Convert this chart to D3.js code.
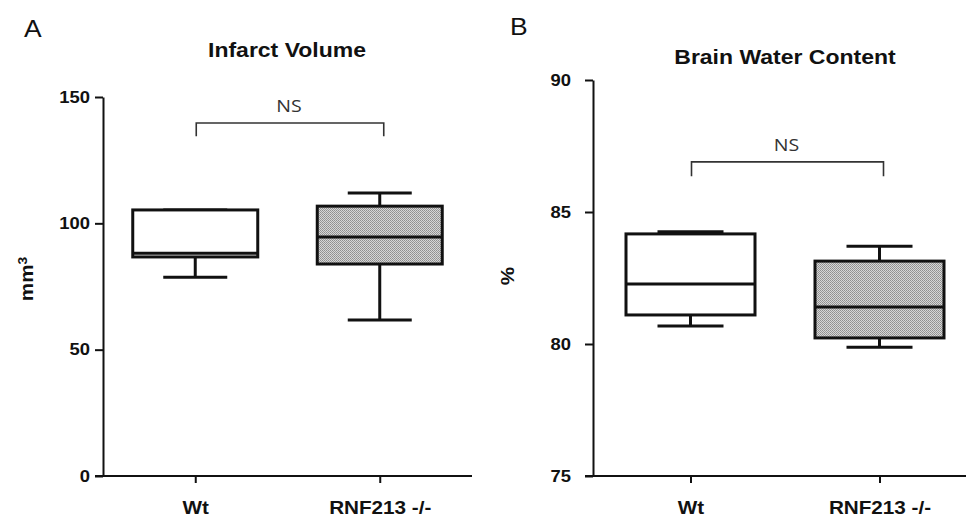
<!DOCTYPE html>
<html>
<head>
<meta charset="utf-8">
<script src="https://cdn.jsdelivr.net/npm/d3@7/dist/d3.min.js"></script>
<style>
  html, body { margin: 0; padding: 0; background: #fff; }
  svg { display: block; }
  text { font-family: "Liberation Sans", Arial, sans-serif; fill: #111; }
</style>
</head>
<body>
<svg id="chart" width="966" height="516"></svg>
<script>
// ---------- data ----------
const categories = ["Wt", "RNF213 -/-"];

// Panel A: Infarct Volume (mm^3)
const infarctMin    = [78.7, 61.7];
const infarctQ1     = [86.7, 83.9];
const infarctMedian = [88.2, 94.6];
const infarctQ3     = [105.3, 106.8];
const infarctMax    = [105.3, 112.0];
const infarctTicks  = [0, 50, 100, 150];

// Panel B: Brain Water Content (%)
const waterMin    = [80.68, 79.88];
const waterQ1     = [81.10, 80.23];
const waterMedian = [82.27, 81.40];
const waterQ3     = [84.17, 83.14];
const waterMax    = [84.25, 83.70];
const waterTicks  = [75, 80, 85, 90];

const panelLetters = ["A", "B"];
const panelTitles = ["Infarct Volume", "Brain Water Content"];
const yLabels = ["mm", "%"];
const sigLabel = "NS";

// ---------- drawing ----------
const svg = d3.select("#chart");
const SX = 1.15; // horizontal stretch of text in the original figure

const defs = svg.append("defs");
const pat = defs.append("pattern")
  .attr("id", "stipple").attr("width", 2).attr("height", 2)
  .attr("patternUnits", "userSpaceOnUse");
pat.append("rect").attr("width", 2).attr("height", 2).attr("fill", "#d6d6d6");
pat.append("rect").attr("x", 0).attr("y", 0).attr("width", 1).attr("height", 1).attr("fill", "#8e8e8e");
pat.append("rect").attr("x", 1).attr("y", 1).attr("width", 1).attr("height", 1).attr("fill", "#9a9a9a");

function label(g, x, y, str, size, weight, anchor, rotate) {
  return g.append("text")
    .attr("transform", `translate(${x},${y})` + (rotate ? ` rotate(${rotate})` : "") + ` scale(${SX},1)`)
    .attr("text-anchor", anchor || "middle")
    .style("font-size", size + "px")
    .style("font-weight", weight || "bold")
    .text(str);
}

function panel(cfg) {
  const g = svg.append("g");
  const y = d3.scaleLinear().domain(cfg.domain).range(cfg.yRange);
  const x = d3.scalePoint().domain(categories).range(cfg.xRange).padding(0.5);

  // y axis
  const yAxis = d3.axisLeft(y).tickValues(cfg.ticks).tickSize(8).tickSizeOuter(0).tickPadding(cfg.tickPad);
  const ya = g.append("g").attr("transform", `translate(${cfg.axisX},0)`).call(yAxis);
  ya.select(".domain").attr("stroke", "#111").attr("stroke-width", 2);
  ya.selectAll(".tick line").attr("stroke", "#111").attr("stroke-width", 2);
  ya.selectAll(".tick text")
    .attr("transform", `scale(${SX},1)`)
    .attr("x", -(8 + cfg.tickPad) / SX)
    .style("font-size", "16px").style("font-weight", "bold")
    .style("font-family", "'Liberation Sans', Arial, sans-serif").attr("fill", "#111");

  // x axis
  const y0 = y(cfg.domain[0]);
  g.append("line")
    .attr("x1", cfg.axisX - 8).attr("x2", cfg.xEnd)
    .attr("y1", y0).attr("y2", y0)
    .attr("stroke", "#111").attr("stroke-width", 2);
  const xAxis = d3.axisBottom(x).tickSize(7).tickSizeOuter(0).tickPadding(18);
  const xa = g.append("g").attr("transform", `translate(0,${y0})`).call(xAxis);
  xa.select(".domain").remove();
  xa.selectAll(".tick line").attr("stroke", "#111").attr("stroke-width", 2);
  xa.selectAll(".tick text")
    .attr("transform", `scale(${SX},1)`)
    .attr("x", function() { return 0; })
    .style("font-size", "18px").style("font-weight", "bold")
    .style("font-family", "'Liberation Sans', Arial, sans-serif").attr("fill", "#111");

  // boxes
  categories.forEach((c, i) => {
    const cx = x(c);
    const bw = cfg.boxW, cw = cfg.capW;
    const bg = g.append("g");
    const stroke = { stroke: "#111", "stroke-width": 3 };
    // whiskers
    [[cfg.min[i], cfg.q1[i]], [cfg.q3[i], cfg.max[i]]].forEach(([a, b]) => {
      if (Math.abs(y(a) - y(b)) > 1) {
        bg.append("line").attr("x1", cx).attr("x2", cx).attr("y1", y(a)).attr("y2", y(b))
          .attr("stroke", "#111").attr("stroke-width", 3);
      }
    });
    [cfg.min[i], cfg.max[i]].forEach(v => {
      bg.append("line").attr("x1", cx - cw / 2).attr("x2", cx + cw / 2)
        .attr("y1", y(v)).attr("y2", y(v))
        .attr("stroke", "#111").attr("stroke-width", 3);
    });
    bg.append("rect")
      .attr("x", cx - bw / 2).attr("width", bw)
      .attr("y", y(cfg.q3[i])).attr("height", y(cfg.q1[i]) - y(cfg.q3[i]))
      .attr("fill", i === 0 ? "#fff" : "url(#stipple)")
      .attr("stroke", "#111").attr("stroke-width", 3);
    bg.append("line").attr("x1", cx - bw / 2).attr("x2", cx + bw / 2)
      .attr("y1", y(cfg.median[i])).attr("y2", y(cfg.median[i]))
      .attr("stroke", "#111").attr("stroke-width", 3);
  });

  // NS bracket
  const bx1 = x(categories[0]) + 1, bx2 = x(categories[1]) + 4;
  const by = y(cfg.bracketTop), be = y(cfg.bracketEnd);
  g.append("path")
    .attr("d", `M${bx1},${be}V${by}H${bx2}V${be}`)
    .attr("fill", "none").attr("stroke", "#333").attr("stroke-width", 1.6);
  label(g, (bx1 + bx2) / 2 - 1, by - 11, sigLabel, 17, "normal").style("fill", "#333")
    .style("font-family", "'Open Sans', 'Liberation Sans', sans-serif");

  // titles and labels
  label(g, cfg.titleX, cfg.titleY, cfg.title, 20, "bold");
  label(g, cfg.letterX, cfg.letterY, cfg.letter, 23, "normal", "start");
  return g;
}

const gA = panel({
  domain: [0, 150], yRange: [476, 97], ticks: infarctTicks,
  xRange: [103, 472], axisX: 103, xEnd: 472, tickPad: 5,
  min: infarctMin, q1: infarctQ1, median: infarctMedian, q3: infarctQ3, max: infarctMax,
  boxW: 125, capW: 64,
  bracketTop: 139.7, bracketEnd: 134.5,
  title: panelTitles[0], titleX: 287, titleY: 57,
  letter: panelLetters[0], letterX: 24, letterY: 37
});
const yl = gA.append("text")
  .attr("transform", `translate(33,279) rotate(-90) scale(${SX},1)`)
  .attr("text-anchor", "middle")
  .style("font-size", "18px").style("font-weight", "bold");
yl.append("tspan").text(yLabels[0]);
yl.append("tspan").attr("baseline-shift", "super").style("font-size", "12px").text("3");

const gB = panel({
  domain: [75, 90], yRange: [476, 80], ticks: waterTicks,
  xRange: [596, 974], axisX: 593, xEnd: 966, tickPad: 14,
  min: waterMin, q1: waterQ1, median: waterMedian, q3: waterQ3, max: waterMax,
  boxW: 129, capW: 66,
  bracketTop: 86.9, bracketEnd: 86.35,
  title: panelTitles[1], titleX: 785, titleY: 64,
  letter: panelLetters[1], letterX: 510, letterY: 35
});
label(gB, 514, 276, yLabels[1], 18, "bold", "middle", -90);
</script>
</body>
</html>
